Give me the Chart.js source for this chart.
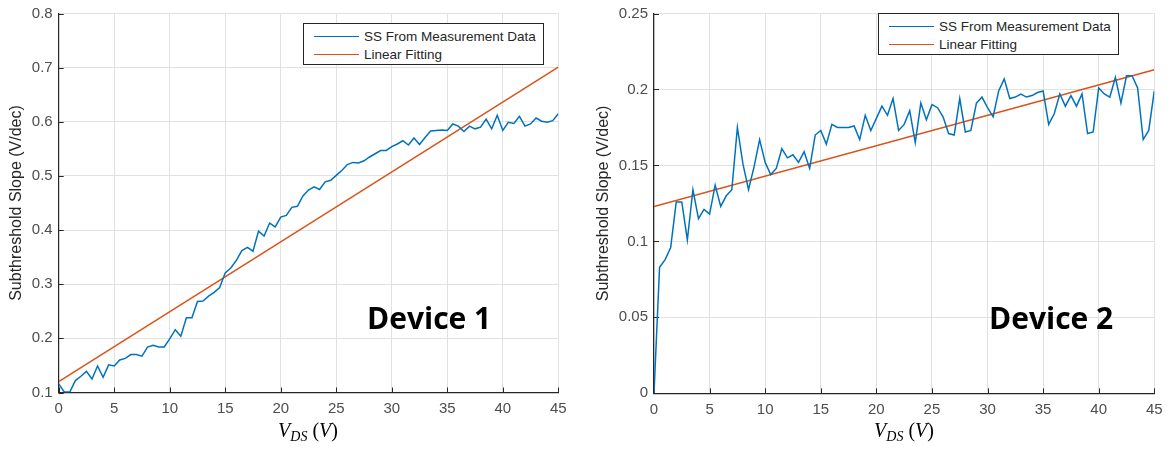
<!DOCTYPE html>
<html>
<head>
<meta charset="utf-8">
<script src="https://cdn.jsdelivr.net/npm/chart.js@4"></script>
<style>
  body { margin: 0; background: #fff; }
  #wrap { position: relative; width: 1173px; height: 449px; overflow: hidden; font-family: "Liberation Sans", Arial, sans-serif; }
  canvas { position: absolute; top: 0; }
  #c1 { left: 0; }
  #c2 { left: 590px; }
  .legend { position: absolute; border: 1px solid #262626; background: #fff; box-sizing: border-box; width: 241px; height: 42px; }
  .legend .row { position: absolute; left: 0; height: 18px; display: flex; align-items: center; font-size: 13.5px; color: #262626; white-space: nowrap; }
  .legend .swatch { display: inline-block; width: 45px; height: 0; border-top: 1.5px solid; margin: 0 5px 0 10px; }
  .device { position: absolute; font-family: "Open Sans", sans-serif; font-weight: bold; font-size: 30px; line-height: 30px; color: #000; white-space: nowrap; }
  .xtitle { position: absolute; top: 418px; width: 200px; text-align: center; font-family: "Liberation Serif", serif; font-size: 20px; line-height: 24px; color: #000; }
  .xtitle sub { font-size: 14px; vertical-align: -4px; }
</style>
</head>
<body>
<div id="wrap">
  <canvas id="c1" width="590" height="449"></canvas>
  <canvas id="c2" width="583" height="449"></canvas>

  <div class="legend" style="left:303px; top:23px;">
    <div class="row" style="top:3px;"><span class="swatch" style="border-color:#0072BD"></span>SS From Measurement Data</div>
    <div class="row" style="top:21px;"><span class="swatch" style="border-color:#D95319"></span>Linear Fitting</div>
  </div>
  <div class="legend" style="left:878px; top:13px;">
    <div class="row" style="top:3px;"><span class="swatch" style="border-color:#0072BD"></span>SS From Measurement Data</div>
    <div class="row" style="top:21px;"><span class="swatch" style="border-color:#D95319"></span>Linear Fitting</div>
  </div>

  <div class="device" style="left:367px; top:303px;">Device 1</div>
  <div class="device" style="left:989px; top:303px;">Device 2</div>

  <div class="xtitle" style="left:208px;"><i>V</i><sub><i>DS</i></sub> (<i>V</i>)</div>
  <div class="xtitle" style="left:804px;"><i>V</i><sub><i>DS</i></sub> (<i>V</i>)</div>
</div>

<script>
// drain-source voltage sweep, 0.5 V step
const vds = Array.from({ length: 91 }, (_, i) => i * 0.5);

// subthreshold slope extracted at each VDS (V/dec)
const ssDevice1 = [
  0.116, 0.101, 0.101, 0.122, 0.130, 0.139, 0.125, 0.149, 0.128, 0.151,
  0.149, 0.160, 0.163, 0.170, 0.170, 0.167, 0.184, 0.187, 0.184, 0.184,
  0.199, 0.216, 0.204, 0.238, 0.238, 0.268, 0.269, 0.278, 0.285, 0.294,
  0.321, 0.330, 0.344, 0.362, 0.368, 0.361, 0.398, 0.389, 0.413, 0.406,
  0.424, 0.427, 0.442, 0.444, 0.463, 0.474, 0.480, 0.475, 0.489, 0.492,
  0.501, 0.510, 0.521, 0.525, 0.524, 0.528, 0.535, 0.541, 0.547, 0.547,
  0.554, 0.559, 0.565, 0.557, 0.570, 0.558, 0.571, 0.583, 0.584, 0.585,
  0.584, 0.596, 0.592, 0.582, 0.592, 0.587, 0.590, 0.605, 0.587, 0.612,
  0.584, 0.599, 0.597, 0.610, 0.592, 0.596, 0.607, 0.601, 0.599, 0.602,
  0.615
];
const ssDevice2 = [
  0.000, 0.083, 0.088, 0.096, 0.126, 0.126, 0.101, 0.134, 0.115, 0.121,
  0.118, 0.137, 0.123, 0.130, 0.134, 0.175, 0.151, 0.134, 0.149, 0.167,
  0.152, 0.144, 0.148, 0.161, 0.155, 0.157, 0.152, 0.159, 0.148, 0.170,
  0.173, 0.164, 0.177, 0.175, 0.175, 0.175, 0.176, 0.167, 0.183, 0.173,
  0.181, 0.189, 0.183, 0.194, 0.173, 0.177, 0.186, 0.165, 0.191, 0.180,
  0.190, 0.188, 0.182, 0.171, 0.170, 0.194, 0.172, 0.173, 0.191, 0.195,
  0.188, 0.182, 0.199, 0.207, 0.194, 0.195, 0.197, 0.195, 0.196, 0.198,
  0.199, 0.177, 0.184, 0.197, 0.189, 0.196, 0.189, 0.197, 0.171, 0.172,
  0.201, 0.197, 0.195, 0.208, 0.191, 0.209, 0.209, 0.201, 0.167, 0.173,
  0.199
];

// linear fit end points
const fitX = [0, 45];
const fitDevice1 = [0.120, 0.701];
const fitDevice2 = [0.123, 0.213];

// tick labels
const xTicks = [0, 5, 10, 15, 20, 25, 30, 35, 40, 45];
const yTicksDevice1 = ['0.1', '0.2', '0.3', '0.4', '0.5', '0.6', '0.7', '0.8'];
const yTicksDevice2 = ['0', '0.05', '0.1', '0.15', '0.2', '0.25'];

const axisColor = '#262626';
const gridColor = '#e1e1e1';
const tickFont = { family: '"Liberation Sans", Arial, sans-serif', size: 15, lineHeight: 1 };

// MATLAB style ticks pointing into the plot
const innerTicks = {
  id: 'innerTicks',
  beforeDatasetsDraw(chart) {
    const { ctx, chartArea: a, scales: { x, y } } = chart;
    ctx.save();
    ctx.strokeStyle = axisColor;
    ctx.lineWidth = 1;
    ctx.beginPath();
    x.ticks.forEach(t => {
      const px = Math.round(x.getPixelForValue(t.value)) + 0.5;
      ctx.moveTo(px, a.bottom);
      ctx.lineTo(px, a.bottom - 5);
    });
    y.ticks.forEach(t => {
      const py = Math.round(y.getPixelForValue(t.value)) + 0.5;
      ctx.moveTo(a.left, py);
      ctx.lineTo(a.left + 5, py);
    });
    ctx.stroke();
    ctx.restore();
  }
};

function makeChart(id, o) {
  return new Chart(document.getElementById(id), {
    type: 'line',
    data: {
      datasets: [
        {
          label: 'SS From Measurement Data',
          data: vds.map((v, i) => ({ x: v, y: o.ss[i] })),
          borderColor: '#0072BD',
          borderWidth: 1.5,
          pointRadius: 0,
          tension: 0
        },
        {
          label: 'Linear Fitting',
          data: fitX.map((v, i) => ({ x: v, y: o.fit[i] })),
          borderColor: '#D95319',
          borderWidth: 1.5,
          pointRadius: 0
        }
      ]
    },
    options: {
      responsive: false,
      animation: false,
      events: [],
      layout: { padding: { top: o.top, right: o.right, left: 0, bottom: 0 } },
      plugins: { legend: { display: false }, tooltip: { enabled: false } },
      scales: {
        x: {
          type: 'linear',
          min: 0,
          max: 45,
          afterBuildTicks: s => { s.ticks = xTicks.map(v => ({ value: v })); },
          afterFit: s => { s.height = o.xHeight; },
          grid: { color: gridColor, drawTicks: false },
          border: { color: axisColor, width: 1.2 },
          ticks: { color: '#4d4d4d', font: tickFont, padding: 9, maxRotation: 0 }
        },
        y: {
          type: 'linear',
          min: Number(o.yTicks[0]),
          max: Number(o.yTicks[o.yTicks.length - 1]),
          afterBuildTicks: s => { s.ticks = o.yTicks.map(v => ({ value: Number(v) })); },
          afterFit: s => { s.width = o.yWidth; },
          grid: { color: gridColor, drawTicks: false },
          border: { color: axisColor, width: 1.2 },
          ticks: {
            color: '#4d4d4d',
            font: tickFont,
            padding: 6,
            callback: (v, i) => o.yTicks[i]
          },
          title: {
            display: true,
            text: 'Subthreshold Slope (V/dec)',
            color: axisColor,
            font: { family: '"Liberation Sans", Arial, sans-serif', size: 16 },
            padding: { top: o.titlePad, bottom: 0 }
          }
        }
      }
    },
    plugins: [innerTicks]
  });
}

makeChart('c1', {
  ss: ssDevice1, fit: fitDevice1, yTicks: yTicksDevice1,
  top: 7.3, right: 31.7, xHeight: 56.5, yWidth: 58.7, titlePad: 7.4
});
makeChart('c2', {
  ss: ssDevice2, fit: fitDevice2, yTicks: yTicksDevice2,
  top: 8, right: 18.7, xHeight: 55.7, yWidth: 64, titlePad: 4.4
});
</script>
</body>
</html>
